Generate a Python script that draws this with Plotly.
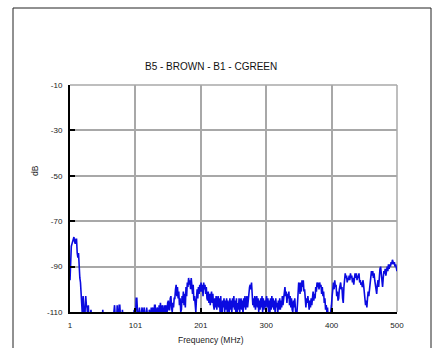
import plotly.graph_objects as go

# Sweep definition (regular analyzer sweep, 1 MHz step, 1..500 MHz)
FREQ_START = 1
FREQ_STEP = 1
FREQ_END = 500
freq_mhz = list(range(FREQ_START, FREQ_END + 1, FREQ_STEP))

level_db = [
    -96, -84, -81, -80, -79, -78, -77, -79, -80, -78,
    -78, -84, -86, -84, -91, -95, -97, -104, -106, -112,
    -103, -108, -113, -110, -103, -107, -108, -112, -107, -115,
    -115, -112, -109, -113, -115, -118, -112, -116, -116, -119,
    -114, -117, -118, -115, -115, -116, -113, -117, -117, -116,
    -109, -114, -115, -117, -118, -116, -114, -117, -116, -118,
    -117, -115, -114, -117, -116, -113, -113, -110, -107, -112,
    -112, -115, -107, -113, -114, -107, -107, -112, -110, -115,
    -109, -113, -115, -117, -118, -115, -113, -116, -116, -118,
    -114, -116, -117, -114, -113, -116, -115, -112, -109, -114,
    -112, -104, -104, -110, -113, -111, -108, -114, -115, -110,
    -108, -112, -114, -108, -110, -113, -112, -108, -111, -114,
    -115, -109, -112, -113, -108, -111, -108, -111, -112, -107,
    -107, -112, -111, -108, -112, -112, -107, -111, -106, -111,
    -110, -107, -112, -112, -107, -111, -107, -110, -111, -106,
    -105, -109, -109, -104, -103, -108, -110, -106, -108, -104,
    -104, -100, -98, -103, -99, -104, -101, -107, -104, -110,
    -109, -103, -106, -101, -107, -102, -108, -99, -103, -97,
    -99, -95, -98, -96, -100, -95, -99, -102, -98, -105,
    -103, -108, -110, -104, -100, -104, -99, -102, -98, -101,
    -97, -101, -98, -103, -97, -100, -98, -102, -99, -104,
    -105, -101, -106, -102, -107, -103, -101, -106, -102, -107,
    -109, -104, -108, -103, -109, -105, -103, -108, -104, -110,
    -103, -109, -112, -105, -108, -104, -110, -105, -109, -104,
    -110, -105, -108, -111, -104, -109, -105, -110, -104, -108,
    -103, -109, -105, -110, -104, -112, -106, -109, -104, -110,
    -106, -104, -109, -105, -111, -104, -108, -103, -109, -104,
    -103, -108, -104, -101, -99, -98, -100, -97, -103, -107,
    -104, -108, -103, -109, -105, -103, -108, -104, -110, -105,
    -109, -104, -108, -103, -110, -104, -109, -105, -108, -104,
    -103, -108, -104, -110, -105, -111, -104, -109, -103, -108,
    -104, -109, -105, -110, -104, -108, -106, -111, -105, -109,
    -104, -109, -105, -108, -103, -107, -104, -101, -99, -103,
    -101, -106, -102, -104, -101, -107, -103, -108, -104, -109,
    -110, -105, -108, -104, -110, -113, -112, -104, -99, -97,
    -98, -102, -97, -101, -96, -99, -96, -101, -100, -106,
    -108, -104, -106, -103, -107, -109, -105, -108, -104, -107,
    -104, -101, -105, -102, -104, -99, -101, -97, -99, -97,
    -100, -97, -99, -98, -102, -99, -103, -101, -106, -104,
    -109, -107, -110, -108, -113, -114, -115, -112, -110, -107,
    -103, -99, -97, -100, -96, -99, -98, -103, -101, -105,
    -104, -100, -99, -97, -100, -99, -104, -106, -99, -95,
    -93, -95, -94, -97, -95, -96, -94, -96, -93, -95,
    -94, -97, -95, -98, -94, -93, -95, -93, -96, -94,
    -95, -93, -97, -96, -98, -97, -99, -96, -98, -101,
    -103, -107, -105, -108, -104, -101, -103, -100, -98, -95,
    -92, -94, -92, -95, -93, -96, -98, -100, -102, -98,
    -96, -99, -94, -91, -90, -93, -97, -99, -95, -92,
    -93, -91, -94, -91, -90, -92, -89, -91, -89, -90,
    -88, -89, -87, -88, -89, -88, -90, -89, -91, -92,
]

x_tickvals = [1, 100.8, 200.6, 300.4, 400.2, 500]
x_ticktext = ["1", "101", "201", "300", "400", "500"]
y_tickvals = [-110, -90, -70, -50, -30, -10]
y_ticktext = ["-110", "-90", "-70", "-50", "-30", "-10"]

title_text = "B5 - BROWN - B1 - CGREEN"
x_title = "Frequency (MHz)"
y_title = "dB"

FONT = "Liberation Sans, Arial, sans-serif"

fig = go.Figure()
fig.add_trace(go.Scatter(
    x=freq_mhz, y=level_db, mode="lines",
    line=dict(color="#0a0ae0", width=1.6),
    showlegend=False, hoverinfo="skip",
))

W, H = 438, 348
L, R, T, B = 70, 41, 85, 36
pw, ph = W - L - R, H - T - B

def px_x(px):
    return (px - L) / pw

def px_y(py):
    return (H - B - py) / ph

fig.update_layout(
    width=W, height=H,
    margin=dict(l=L, r=R, t=T, b=B, pad=0),
    paper_bgcolor="white", plot_bgcolor="white",
    font=dict(family=FONT, size=8, color="#222"),
    xaxis=dict(
        range=[1, 500], tickvals=x_tickvals, ticktext=x_ticktext,
        showgrid=True, gridcolor="#a8a8a8", gridwidth=1.5,
        showline=True, linecolor="black", linewidth=2,
        ticks="inside", ticklen=4, tickcolor="black", tickwidth=1.5,
        zeroline=False, ticklabelstandoff=4,
    ),
    yaxis=dict(
        range=[-110, -10], tickvals=y_tickvals, ticktext=y_ticktext,
        showgrid=True, gridcolor="#a8a8a8", gridwidth=1.5,
        showline=True, linecolor="black", linewidth=2,
        ticks="inside", ticklen=5, tickcolor="black", tickwidth=1.5,
        zeroline=False, ticklabelstandoff=4,
    ),
    annotations=[
        dict(text=title_text, xref="paper", yref="paper",
             x=px_x(210.5), y=px_y(66), showarrow=False,
             xanchor="center", yanchor="middle",
             font=dict(size=10, color="#111", family=FONT)),
        dict(text=x_title, xref="paper", yref="paper",
             x=px_x(211), y=px_y(340), showarrow=False,
             xanchor="center", yanchor="middle",
             font=dict(size=8.5, color="#222", family=FONT)),
        dict(text=y_title, xref="paper", yref="paper",
             x=px_x(35), y=px_y(171), showarrow=False, textangle=-90,
             xanchor="center", yanchor="middle",
             font=dict(size=8.5, color="#222", family=FONT)),
    ],
    shapes=[
        dict(type="rect", xref="paper", yref="paper",
             x0=px_x(13), x1=px_x(431), y0=px_y(360), y1=px_y(8),
             line=dict(color="#222", width=1), layer="below"),
        dict(type="line", xref="paper", yref="paper",
             x0=0, x1=1, y0=1, y1=1,
             line=dict(color="#a8a8a8", width=1.5), layer="below"),
        dict(type="line", xref="paper", yref="paper",
             x0=1, x1=1, y0=0, y1=1,
             line=dict(color="#a8a8a8", width=1.5), layer="below"),
    ],
)

fig.write_html(
    "out.html",
    config={"displayModeBar": False},
    post_script="document.body.style.margin='0px';document.body.style.overflow='hidden';",
)
